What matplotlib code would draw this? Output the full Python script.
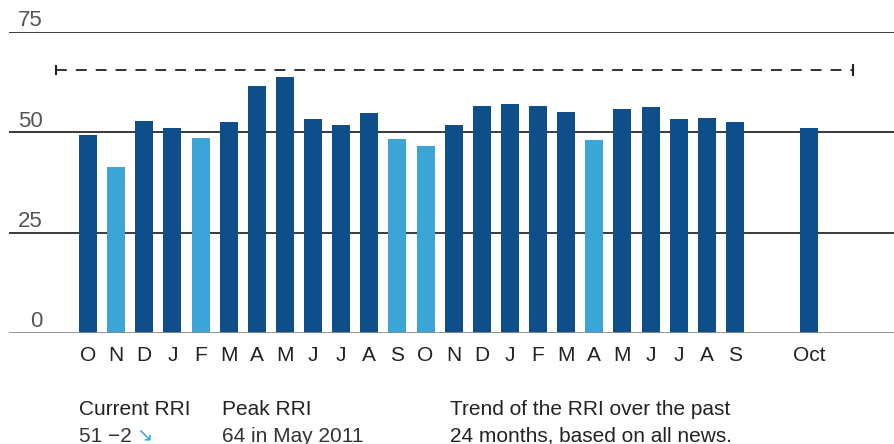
import matplotlib.pyplot as plt

# datos
meses = ['O', 'N', 'D', 'J', 'F', 'M', 'A', 'M', 'J', 'J', 'A', 'S',
         'O', 'N', 'D', 'J', 'F', 'M', 'A', 'M', 'J', 'J', 'A', 'S']
valores = [49.4, 41.4, 52.9, 51.1, 48.6, 52.6, 61.6, 63.8, 53.4, 51.9, 54.9, 48.4,
           46.6, 51.9, 56.6, 57.1, 56.6, 55.1, 48.1, 55.9, 56.4, 53.4, 53.6, 52.6]
claros = [1, 4, 11, 12, 18]  # meses en azul claro
actual_etiqueta = 'Oct'
actual_valor = 51.1
umbral = 65.5
ticks_y = [0, 25, 50, 75]

azul = '#0e4e8a'
celeste = '#3ca5d8'

fig = plt.figure(figsize=(8.95, 4.44), dpi=100)
ax = fig.add_axes([9 / 895, 111 / 444, 886 / 895, 301 / 444])

x = list(range(len(meses)))
colores = [celeste if i in claros else azul for i in x]
ax.bar(x, valores, width=0.64, color=colores, zorder=2)
x_oct = 25.63
ax.bar([x_oct], [actual_valor], width=0.64, color=azul, zorder=2)

ax.set_xlim(-2.81, 28.69)
ax.set_ylim(0, 75)

# lineas de referencia
for t in ticks_y[1:]:
    ax.axhline(t, color='#2a2a2a', lw=1.3, zorder=1)
ax.axhline(0, color='#8a8a8a', lw=2, zorder=3)
for t in ticks_y:
    ax.text(34 / 886, t + 0.2, str(t), transform=ax.get_yaxis_transform(),
            ha='right', va='bottom', fontsize=16, color='#555555', family='Liberation Sans')

# linea discontinua con topes
ax.plot([-1.14, 27.2], [umbral, umbral], color='#222222', lw=1.3, dashes=(6, 5), zorder=2)
ax.plot([-1.14, -1.14], [umbral - 1, umbral + 1], color='#222222', lw=1.5)
ax.plot([27.2, 27.2], [umbral - 1.2, umbral + 1.2], color='#222222', lw=1.5)

ax.set_xticks(x + [x_oct])
ax.set_xticklabels(meses + [actual_etiqueta], fontsize=15, color='#222222', family='Liberation Sans')
ax.tick_params(axis='x', length=0, pad=9)
ax.set_yticks([])
for s in ax.spines.values():
    s.set_visible(False)

# textos inferiores
fuente = ['Liberation Sans', 'DejaVu Sans']
fs = 15
fig.text(79 / 895, 1 - 409 / 444, 'Current RRI', fontsize=fs, color='#222222', va='center', family=fuente)
fig.text(79 / 895, 1 - 436 / 444, '51 \u22122', fontsize=fs, color='#333333', va='center', family=fuente)
fig.text(136 / 895, 1 - 435 / 444, '\u2198', fontsize=14, color=celeste, va='center', family='DejaVu Sans')
fig.text(222 / 895, 1 - 409 / 444, 'Peak RRI', fontsize=fs, color='#222222', va='center', family=fuente)
fig.text(222 / 895, 1 - 436 / 444, '64 in May 2011', fontsize=fs, color='#333333', va='center', family=fuente)
fig.text(450 / 895, 1 - 409 / 444, 'Trend of the RRI over the past', fontsize=fs, color='#222222', va='center', family=fuente)
fig.text(450 / 895, 1 - 436 / 444, '24 months, based on all news.', fontsize=fs, color='#222222', va='center', family=fuente)

fig.savefig('out.png', dpi=100)
